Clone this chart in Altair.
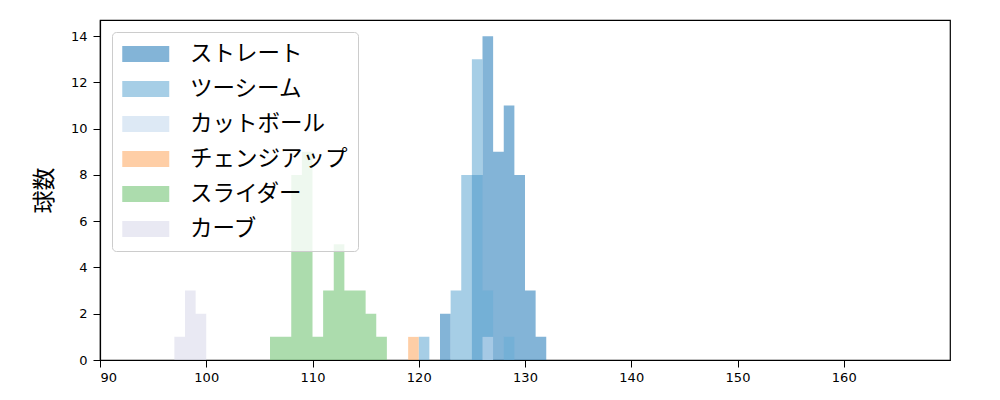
import altair as alt
import pandas as pd

pitch_types = ["ストレート", "ツーシーム", "カットボール", "チェンジアップ", "スライダー", "カーブ"]
colors = ["#3182bd", "#6baed6", "#c6dbef", "#fdae6b", "#74c476", "#dadaeb"]

straight_speed = [122, 125, 126, 127, 128, 129, 130, 131]
straight_count = [2, 8, 14, 9, 11, 8, 3, 1]
twoseam_speed = [120, 123, 124, 125, 126, 128]
twoseam_count = [1, 3, 8, 13, 3, 1]
cutter_speed = [126]
cutter_count = [1]
changeup_speed = [119]
changeup_count = [1]
slider_speed = [106, 107, 108, 109, 110, 111, 112, 113, 114, 115, 116]
slider_count = [1, 1, 8, 9, 1, 3, 5, 3, 3, 2, 1]
curve_speed = [97, 98, 99]
curve_count = [1, 3, 2]

series = [
    (straight_speed, straight_count),
    (twoseam_speed, twoseam_count),
    (cutter_speed, cutter_count),
    (changeup_speed, changeup_count),
    (slider_speed, slider_count),
    (curve_speed, curve_count),
]

# histogram outline per series: each 1 km/h bin as a step, empty bins inside the range are 0
rows = []
for i, (name, (sp, ct)) in enumerate(zip(pitch_types, series)):
    counts = dict(zip(sp, ct))
    for s in range(min(sp), max(sp) + 1):
        rows.append({"pitch": name, "speed": s, "count": counts.get(s, 0), "k": i})
    rows.append({"pitch": name, "speed": max(sp) + 1, "count": 0, "k": i})
df = pd.DataFrame(rows)

color = alt.Color("pitch:N", scale=alt.Scale(domain=pitch_types, range=colors),
                  legend=alt.Legend(
                      title=None, orient="none", legendX=12, legendY=12,
                      fillColor="rgba(255,255,255,0.8)", strokeColor="#cccccc",
                      cornerRadius=4, padding=10,
                      symbolType="M-1,-0.68L3,-0.68L3,0.68L-1,0.68Z",
                      symbolSize=552, symbolOpacity=0.6, symbolStrokeWidth=0,
                      labelFontSize=22.5, labelFont="Noto Sans CJK JP",
                      labelOffset=44, rowPadding=11, labelColor="black"))

layers = []
for i in range(len(pitch_types)):
    layers.append(
        alt.Chart(df).transform_filter(f"datum.k == {i}").mark_area(
            opacity=0.6, interpolate="step-after", orient="vertical"
        ).encode(
            x=alt.X("speed:Q", scale=alt.Scale(domain=[90, 170], nice=False, zero=False, padding=0),
                    axis=alt.Axis(values=list(range(90, 170, 10)), title=None, grid=False)),
            y=alt.Y("count:Q", stack=None, scale=alt.Scale(domain=[0, 14.7], nice=False, padding=0),
                    axis=alt.Axis(values=list(range(0, 15, 2)), title="球数", grid=False,
                                  labelPadding=6)),
            y2=alt.datum(0),
            color=color,
        )
    )

chart = alt.layer(*layers).properties(
    width=850, height=340,
    autosize=alt.AutoSizeParams(type="none"),
    padding={"left": 92, "top": 12, "right": 30, "bottom": 30},
).configure_view(
    stroke="black", strokeWidth=1.2
).configure_axis(
    domainColor="black", tickColor="black", tickSize=7, domainWidth=1.2,
    labelPadding=4,
    labelFont="DejaVu Sans", labelFontSize=13, labelColor="black",
    titleFont="Noto Sans CJK JP", titleFontSize=23, titleFontWeight="normal",
    titleColor="black",
).configure_axisY(titlePadding=14)

chart.save("out.html", embed_options={"renderer": "svg", "actions": False})
